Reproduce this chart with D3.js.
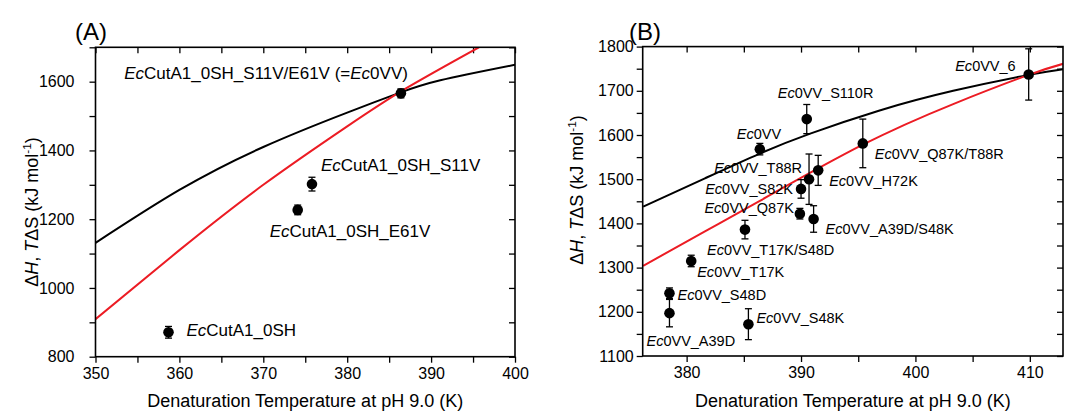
<!DOCTYPE html>
<html><head><meta charset="utf-8">
<script src="https://cdn.jsdelivr.net/npm/d3@7"></script>
<style>
body{margin:0;background:#fff}
svg{display:block}
text{font-family:"Liberation Sans",Arial,Helvetica,sans-serif;fill:#000}
</style>
</head><body>
<svg id="c" width="1065" height="414"></svg>
<script>
// ---------------- Panel A data ----------------
const aNames = ["EcCutA1_0SH", "EcCutA1_0SH_E61V", "EcCutA1_0SH_S11V", "EcCutA1_0SH_S11V/E61V (=Ec0VV)"];
const aTemp  = [358.7, 374.1, 375.8, 386.4];
const aDH    = [871, 1227, 1302, 1566];
const aErr   = [17, 14, 20, 13];
const aBlackT = [350, 360, 370, 380, 386.3, 391.1, 400];
const aBlackV = [1131, 1285, 1410, 1510, 1568, 1604, 1649];
const aRedT   = [350, 360, 370, 380, 386.9, 395.7];
const aRedV   = [909, 1110, 1300, 1470, 1579, 1700];
const aXTicks = [350, 360, 370, 380, 390, 400];
const aYTicks = [800, 1000, 1200, 1400, 1600];

// ---------------- Panel B data ----------------
const bNames = ["Ec0VV", "Ec0VV_S110R", "Ec0VV_6", "Ec0VV_Q87K/T88R", "Ec0VV_H72K", "Ec0VV_T88R",
  "Ec0VV_S82K", "Ec0VV_Q87K", "Ec0VV_A39D/S48K", "Ec0VV_T17K/S48D", "Ec0VV_T17K",
  "Ec0VV_S48D", "Ec0VV_A39D", "Ec0VV_S48K"];
const bTemp = [386.4, 390.5, 409.9, 395.4, 391.5, 390.7, 390.0, 389.9, 391.1, 385.1, 380.4, 378.5, 378.5, 385.4];
const bDH   = [1568, 1636, 1737, 1581, 1520, 1500, 1478, 1422, 1410, 1386, 1315, 1242, 1197, 1172];
const bErr  = [13, 33, 58, 55, 34, 57, 21, 12, 30, 21, 13, 12, 31, 35];
const bBlackT = [376.2, 381.6, 386.4, 390.8, 396.8, 403.3, 409.9, 412.9];
const bBlackV = [1438, 1502, 1558, 1603, 1655, 1700, 1736, 1749];
const bRedT   = [376.2, 381.6, 386.4, 395.4, 403.3, 409.9, 412.9];
const bRedV   = [1304, 1382, 1451, 1578, 1670, 1736, 1761];
const bXTicks = [380, 390, 400, 410];
const bYTicks = [1100, 1200, 1300, 1400, 1500, 1600, 1700, 1800];

// label layout (pixel offsets from the point, anchor)
const aLabelLayout = [[18, 4, "start"], [-28, 27, "start"], [9, -13, "start"], [7, -14, "end"]];
const bLabelLayout = [[-23, -10, "start"], [-29, -21, "start"], [-13, -3, "end"], [12, 16, "start"],
  [11, 16, "start"], [-7, -6, "end"], [-8, 5, "end"], [-6, -1, "end"], [12, 15, "start"],
  [-38, 25, "start"], [6, 16, "start"], [8, 7, "start"], [-23, 33, "start"], [8, -1, "start"]];

const RED = "#ec1c24";
const svg = d3.select("#c");

function addLabel(g, str, x, y, anchor, size) {
  const t = g.append("text").attr("x", x).attr("y", y).attr("text-anchor", anchor)
    .style("font-size", size + "px");
  str.split(/(Ec)/).filter(s => s.length).forEach(s => {
    const ts = t.append("tspan").text(s);
    if (s === "Ec") ts.style("font-style", "italic");
  });
}

function yTitle(g, x, y, size) {
  const t = g.append("text").attr("transform", `translate(${x},${y}) rotate(-90)`)
    .attr("text-anchor", "middle").style("font-size", size + "px");
  t.append("tspan").text("\u0394");
  t.append("tspan").text("H").style("font-style", "italic");
  t.append("tspan").text(", ");
  t.append("tspan").text("T").style("font-style", "italic");
  t.append("tspan").text("\u0394S (kJ mol");
  t.append("tspan").text("-1").style("font-size", (size * 0.65) + "px").attr("dy", -7);
  t.append("tspan").text(")").attr("dy", 7);
}

function panel(cfg) {
  const g = svg.append("g");
  const x = d3.scaleLinear().domain(cfg.xDom).range(cfg.xRange);
  const y = d3.scaleLinear().domain(cfg.yDom).range(cfg.yRange);
  const [x0, x1] = cfg.xRange, [y0, y1] = cfg.yRange;
  const clipId = "clip" + cfg.id;
  g.append("clipPath").attr("id", clipId).append("rect")
    .attr("x", x0).attr("y", y1).attr("width", x1 - x0).attr("height", y0 - y1);

  const styleAxis = (sel) => {
    sel.select(".domain").remove();
    sel.selectAll("line").attr("stroke", "#000").attr("stroke-width", 1.3);
    sel.selectAll("text").style("font-size", "16px").attr("fill", "#000")
      .style("font-family", '"Liberation Sans",Arial,sans-serif');
  };
  // bottom
  g.append("g").attr("transform", `translate(0,${y0})`)
    .call(d3.axisBottom(x).tickValues(cfg.xMinor).tickSize(6).tickFormat("")).call(styleAxis);
  g.append("g").attr("transform", `translate(0,${y0})`)
    .call(d3.axisBottom(x).tickValues(cfg.xTicks).tickSize(6).tickPadding(5).tickFormat(d3.format("d"))).call(styleAxis);
  // top (inward)
  g.append("g").attr("transform", `translate(0,${y1})`)
    .call(d3.axisTop(x).tickValues(cfg.xMinor.concat(cfg.xTicks)).tickSize(-6).tickFormat("")).call(styleAxis);
  // left
  g.append("g").attr("transform", `translate(${x0},0)`)
    .call(d3.axisLeft(y).tickValues(cfg.yMinor).tickSize(6).tickFormat("")).call(styleAxis);
  g.append("g").attr("transform", `translate(${x0},0)`)
    .call(d3.axisLeft(y).tickValues(cfg.yTicks).tickSize(6).tickPadding(cfg.yPad).tickFormat(d3.format("d"))).call(styleAxis);
  // right (inward)
  g.append("g").attr("transform", `translate(${x1},0)`)
    .call(d3.axisRight(y).tickValues(cfg.yMinor.concat(cfg.yTicks)).tickSize(-6).tickFormat("")).call(styleAxis);

  // curves
  const line = d3.line().x(d => x(d[0])).y(d => y(d[1])).curve(d3.curveNatural);
  const lg = g.append("g").attr("clip-path", `url(#${clipId})`);
  lg.append("path").datum(d3.zip(cfg.blackT, cfg.blackV)).attr("d", line)
    .attr("fill", "none").attr("stroke", "#000").attr("stroke-width", 2);
  lg.append("path").datum(d3.zip(cfg.redT, cfg.redV)).attr("d", line)
    .attr("fill", "none").attr("stroke", RED).attr("stroke-width", 2);

  // frame
  g.append("rect").attr("x", x0).attr("y", y1).attr("width", x1 - x0).attr("height", y0 - y1)
    .attr("fill", "none").attr("stroke", "#000").attr("stroke-width", 1.6);

  // points with error bars
  const pts = cfg.temp.map((t, i) => ({t, v: cfg.dh[i], e: cfg.err[i], name: cfg.names[i], lay: cfg.layout[i]}));
  const pg = g.append("g");
  pts.forEach(p => {
    const cx = x(p.t), cy = y(p.v), ty = y(p.v + p.e), by = y(p.v - p.e);
    pg.append("line").attr("x1", cx).attr("x2", cx).attr("y1", ty).attr("y2", by)
      .attr("stroke", "#000").attr("stroke-width", 1.3);
    [ty, by].forEach(yy => pg.append("line").attr("x1", cx - 3.5).attr("x2", cx + 3.5)
      .attr("y1", yy).attr("y2", yy).attr("stroke", "#000").attr("stroke-width", 1.3));
    pg.append("circle").attr("cx", cx).attr("cy", cy).attr("r", 5.3).attr("fill", "#000");
    addLabel(g, p.name, cx + p.lay[0], cy + p.lay[1], p.lay[2], cfg.labelSize);
  });

  // titles
  g.append("text").attr("x", cfg.tagX).attr("y", 40).style("font-size", "24px").text(cfg.tag);
  g.append("text").attr("x", (x0 + x1) / 2).attr("y", 407).attr("text-anchor", "middle")
    .style("font-size", "18px").text("Denaturation Temperature at pH 9.0 (K)");
  yTitle(g, cfg.yTitleX, cfg.yTitleY, 18);
}

const range = (a, b, s) => d3.range(a, b + 0.001, s);

panel({
  id: "A", xDom: [350, 400], xRange: [95.5, 515], yDom: [800, 1700], yRange: [356.7, 47.3],
  xTicks: aXTicks, xMinor: range(355, 395, 10), yTicks: aYTicks, yMinor: range(900, 1700, 200),
  yPad: 15, blackT: aBlackT, blackV: aBlackV, redT: aRedT, redV: aRedV,
  temp: aTemp, dh: aDH, err: aErr, names: aNames, layout: aLabelLayout, labelSize: 17,
  tag: "(A)", tagX: 75, yTitleX: 38, yTitleY: 212
});
panel({
  id: "B", xDom: [376.16, 412.9], xRange: [642.7, 1063], yDom: [1100, 1800], yRange: [356, 46.6],
  xTicks: bXTicks, xMinor: range(385, 405, 10), yTicks: bYTicks, yMinor: range(1150, 1750, 100),
  yPad: 3, blackT: bBlackT, blackV: bBlackV, redT: bRedT, redV: bRedV,
  temp: bTemp, dh: bDH, err: bErr, names: bNames, layout: bLabelLayout, labelSize: 14.5,
  tag: "(B)", tagX: 629, yTitleX: 583, yTitleY: 190
});
</script>
</body></html>
